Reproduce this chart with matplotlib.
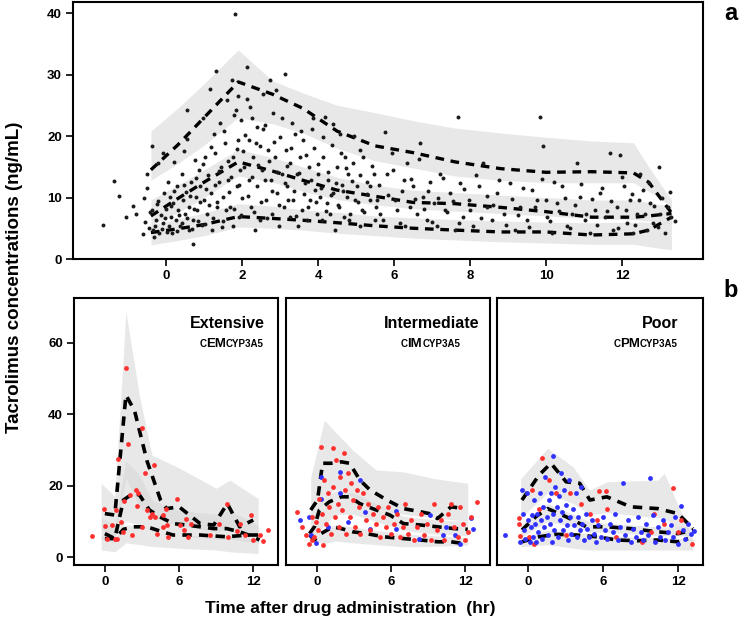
import numpy as np
import matplotlib
matplotlib.use('Agg')
import matplotlib.pyplot as plt

plt.rcParams['font.family'] = ['Liberation Sans', 'DejaVu Sans']
plt.rcParams['font.weight'] = 'bold'

# ---- panel a: all patients ----
t_a = [-0.4, 0.3, 1.0, 1.9, 2.8, 3.6, 4.5, 5.5, 6.5, 7.6, 8.8, 10.0, 11.2, 12.3, 12.7, 13.3]
p95_a = [14.5, 18.5, 23.0, 28.8, 26.8, 24.5, 20.8, 18.4, 17.3, 15.8, 14.7, 14.1, 14.2, 14.0, 12.5, 7.5]
p50_a = [7.0, 9.8, 12.5, 15.8, 14.3, 12.8, 11.2, 10.2, 9.2, 9.0, 8.4, 7.7, 6.8, 6.8, 7.0, 7.4]
p05_a = [4.3, 4.9, 5.6, 6.9, 6.6, 6.3, 5.9, 5.4, 5.0, 4.7, 4.4, 4.4, 3.9, 4.1, 4.7, 6.8]
ci95_hi_a = [20.8, 24.5, 28.5, 34.0, 29.0, 27.0, 25.0, 23.8, 22.5, 21.3, 20.5, 19.8, 19.2, 18.9, 15.0, 9.6]
ci95_lo_a = [12.8, 15.5, 18.5, 23.0, 22.0, 20.5, 18.0, 16.0, 14.8, 13.5, 12.8, 12.4, 12.4, 12.4, 11.0, 8.5]
ci50_hi_a = [9.6, 12.0, 14.5, 17.8, 16.5, 15.0, 13.3, 12.0, 11.2, 10.8, 10.4, 10.0, 9.6, 9.6, 9.2, 8.5]
ci50_lo_a = [5.5, 7.5, 10.0, 13.5, 12.5, 11.0, 9.7, 8.8, 8.2, 7.8, 7.4, 7.0, 6.6, 6.4, 6.2, 5.8]
ci05_hi_a = [5.6, 6.5, 7.5, 9.0, 8.6, 8.0, 7.6, 7.0, 6.7, 6.4, 6.2, 6.0, 5.9, 6.0, 6.0, 6.0]
ci05_lo_a = [2.3, 3.0, 3.8, 5.2, 5.0, 4.7, 4.2, 3.8, 3.4, 3.1, 2.8, 2.6, 2.4, 2.4, 2.0, 1.5]

obs_t_a = [-1.65, -1.36, -1.24, -1.05, -0.86, -0.79, -0.60, -0.57, -0.51, -0.50, -0.45, -0.38, -0.38, -0.35,
           -0.32, -0.27, -0.25, -0.20, -0.18, -0.14, -0.09, -0.07, -0.05, 0.0, 0.02, 0.06, 0.1, 0.12, 0.15,
           0.19, 0.21, 0.26, 0.28, 0.32, 0.37, 0.41, 0.44, 0.48, 0.5, 0.53, 0.54, 0.54, 0.59, 0.61, 0.65,
           0.70, 0.72, 0.76, 0.79, 0.82, 0.86, 0.89, 0.94, 0.98, 1.0, 1.03, 1.07, 1.11, 1.16, 1.18, 1.21,
           1.25, 1.28, 1.32, 1.33, 1.38, 1.42, 1.44, 1.49, 1.51, 1.55, 1.60, 1.64, 1.68, 1.73, 1.75, 1.77,
           1.82, 1.84, 1.86, 1.88, 1.90, 1.93, 1.95, 1.96, 1.99, 2.02, 2.12, 2.14, 2.17, 2.19, 2.23, 2.25,
           2.30, 2.34, 2.39, 2.40, 2.46, 2.47, 2.52, 2.56, 2.61, 2.63, 2.69, 2.74, 2.75, 2.78, 2.82, 2.87,
           2.89, 2.93, 2.96, 3.0, 3.04, 3.09, 3.13, 3.16, 3.19, 3.25, 3.26, 3.31, 3.35, 3.39, 3.44, 3.48,
           3.53, 3.57, 3.61, 3.66, 3.70, 3.75, 3.79, 3.83, 3.88, 3.92, 3.96, 4.01, 4.05, 4.10, 4.14, 4.18,
           4.23, 4.27, 4.32, 4.36, 4.40, 4.45, 4.49, 4.54, 4.58, 4.62, 4.67, 4.71, 4.76, 4.80, 4.84, 4.93,
           4.97, 5.02, 5.11, 5.15, 5.19, 5.28, 5.37, 5.46, 5.50,
           5.11, 5.37, 5.54, 5.63, 5.76, 5.81, 5.94, 6.02, 6.16, 6.25, 6.33, 6.42, 6.51, 6.60, 6.68, 6.77,
           6.86, 6.95, 7.04, 7.12, 7.21, 7.34, 7.47, 7.61, 7.69, 7.74, 7.82, 7.96, 8.09, 8.23, 8.35, 8.44,
           8.57, 8.70, 8.88, 9.05, 9.18, 9.32, 9.49, 9.62, 9.75, 9.84, 9.93, 10.02, 10.15, 10.28, 10.41,
           10.54, 10.68, 10.81, 10.89, 11.02, 11.16, 11.29, 11.42, 11.55, 11.68, 11.77, 11.86, 11.95, 12.04,
           12.12, 12.21, 12.30, 12.39, 12.47, 12.56, 12.65, 12.74, 12.82, 12.96, 13.0, 13.13, 13.26, 13.30,
           -0.55, -0.42, -0.3, -0.22, -0.12, -0.02, 0.08, 0.14, 0.22, 0.3, 0.35, 0.42, 0.47, 0.56, 0.63,
           0.68, 0.74, 0.8, 0.84, 0.9, 0.96, 1.02, 1.06, 1.13, 1.19, 1.23, 1.3, 1.35, 1.4, 1.46, 1.52,
           1.57, 1.62, 1.66, 1.71, 1.78, 1.8, 1.87, 1.92, 1.98, 2.05, 2.08, 2.15, 2.2, 2.27, 2.32, 2.36,
           2.42, 2.5, 2.55, 2.6, 2.66, 2.72, 2.8, 2.85, 2.92, 2.98, 3.05, 3.12, 3.18, 3.22, 3.3, 3.36,
           3.42, 3.5, 3.55, 3.63, 3.68, 3.74, 3.81, 3.86, 3.94, 4.0, 4.07, 4.12, 4.2, 4.25, 4.33, 4.4,
           4.47, 4.52, 4.6, 4.66, 4.74, 4.82, 4.9, 4.95, 5.04, 5.1, 5.2, 5.3, 5.42, 5.52,
           5.6, 5.7, 5.85, 5.98, 6.08, 6.2, 6.3, 6.45, 6.55, 6.65, 6.8, 6.9, 7.0, 7.15, 7.3, 7.4, 7.55,
           7.7, 7.85, 8.0, 8.15, 8.3, 8.45, 8.6, 8.75, 8.95, 9.1, 9.25, 9.4, 9.55, 9.7, 9.88, 10.0, 10.1,
           10.22, 10.35, 10.5, 10.62, 10.75, 10.92, 11.05, 11.2, 11.35, 11.48, 11.6, 11.72, 11.9, 12.0,
           12.1, 12.25, 12.35, 12.45, 12.6, 12.7, 12.85, 12.95, 13.05, 13.2, 13.4]
obs_c_a = [5.6, 12.7, 10.3, 6.8, 8.7, 7.4, 4.1, 9.9, 13.9, 11.5, 5.1, 18.4, 7.9, 4.7,
           3.5, 6.3, 8.9, 15.6, 4.2, 7.2, 5.8, 17.2, 10.7, 8.2, 4.4, 12.6, 10.1, 6.9, 4.2,
           9.1, 15.7, 6.3, 11.8, 8.0, 5.3, 13.9, 9.6, 17.6, 7.4, 10.9, 19.5, 24.2, 4.7, 8.5, 12.6,
           2.5, 6.3, 16.1, 10.1, 7.9, 14.5, 11.8, 5.5, 22.9, 9.6, 16.6, 7.4, 13.6, 27.6, 10.7, 4.7,
           20.4, 17.2, 30.5, 8.5, 12.6, 22.1, 15.0, 6.1, 10.1, 18.8, 25.9, 12.8, 8.5, 29.1, 16.6, 5.3,
           39.9, 24.2, 11.8, 26.5, 19.3, 6.9, 14.5, 22.6, 9.9, 17.5, 31.3, 26.1, 12.8, 19.3, 8.5, 22.9,
           16.6, 4.7, 21.5, 11.8, 6.3, 18.3, 14.5, 26.9, 21.8, 9.6, 17.7, 29.1, 12.8, 7.4, 23.7, 16.6,
           27.5, 10.7, 5.3, 19.9, 13.9, 8.5, 30.1, 17.7, 11.8, 6.9, 15.6, 22.1, 9.6, 20.4, 13.9, 5.3,
           16.6, 8.0, 19.3, 12.3, 6.3, 15.0, 9.6, 21.2, 18.0, 11.2, 7.4, 13.9, 10.1, 6.3, 16.6, 23.1,
           9.1, 12.8, 7.4, 18.5, 10.7, 4.7, 15.0, 8.5, 20.4, 12.0, 6.9, 16.6, 10.1, 13.9, 7.4, 15.6,
           9.6, 11.8, 5.3, 8.0, 16.6, 12.6, 9.6, 13.9, 6.3,
           17.7, 11.8, 9.6, 7.4, 20.7, 13.9, 17.2, 9.6, 5.8, 12.8, 15.6, 8.5, 11.8, 7.4, 18.8, 10.1,
           6.3, 12.6, 9.1, 5.3, 13.9, 8.0, 10.7, 4.7, 23.1, 12.3, 6.9, 9.6, 5.3, 11.8, 15.6, 8.5,
           6.3, 10.7, 7.4, 12.3, 4.7, 8.5, 6.3, 11.2, 9.6, 23.1, 18.3, 6.9, 4.2, 9.1, 11.8,
           5.3, 7.4, 15.6, 10.1, 6.3, 4.2, 8.0, 10.7, 6.9, 17.2, 4.7, 8.5, 16.9, 11.8,
           5.8, 9.6, 4.2, 7.4, 13.9, 11.2, 4.7, 9.1, 5.8, 15.0, 7.4, 4.2, 10.9, 6.9,
           6.0, 7.6, 5.4, 9.5, 4.9, 6.7, 5.3, 8.6, 11.0, 4.6, 7.1, 5.9, 12.1, 6.6, 10.3,
           4.9, 8.1, 13.2, 6.1, 9.3, 15.4, 5.7, 11.4, 8.8, 18.2, 6.6, 12.0, 9.2, 14.3, 5.2, 20.8,
           7.9, 16.0, 10.9, 13.4, 23.4, 8.1, 17.9, 12.1, 7.2, 15.0, 20.1, 10.2, 24.8, 13.3, 7.6, 18.8,
           15.3, 9.3, 21.2, 12.9, 6.7, 16.0, 11.0, 19.0, 14.1, 8.8, 22.9, 12.3, 15.1, 9.6, 18.0, 11.0,
           7.0, 14.0, 20.9, 10.6, 16.9, 8.4, 12.9, 23.0, 9.2, 15.5, 11.6, 19.9, 7.8, 14.1, 10.4, 22.0,
           12.4, 8.8, 17.3, 11.0, 14.8, 6.3, 12.7, 20.0, 9.2, 13.6, 7.6, 10.6, 15.2, 8.4,
           12.0, 6.4, 10.4, 14.4, 7.9, 11.1, 5.4, 13.0, 9.8, 16.2, 8.2, 11.0, 6.0, 10.0, 13.2, 7.6, 9.4,
           5.8, 11.4, 8.0, 13.6, 6.6, 10.2, 8.8, 12.8, 5.6, 9.8, 7.2, 11.6, 5.2, 8.4, 13.0, 9.6, 6.2,
           12.6, 7.8, 10.0, 5.0, 8.8, 12.2, 7.4, 9.8, 5.6, 11.6, 7.8, 9.4, 5.0, 13.4,
           8.0, 10.6, 5.6, 9.6, 7.4, 12.4, 8.6, 5.2, 10.0, 8.4, 6.1]

# ---- panel b: CYP3A5 phenotypes ----
t_em = [-0.3, 0.8, 1.7, 2.8, 3.8, 6.0, 9.0, 10.1, 12.4]
ci95_hi_em = [20.7, 17.0, 68.8, 45.0, 28.6, 25.0, 19.3, 21.6, 16.4]
ci95_lo_em = [8.0, 5.0, 22.0, 14.0, 11.0, 9.0, 7.0, 8.0, 6.0]
ci50_hi_em = [11.0, 9.0, 27.0, 23.0, 16.0, 13.0, 12.0, 13.0, 9.0]
ci50_lo_em = [5.0, 4.0, 10.0, 9.0, 7.0, 6.0, 5.0, 5.0, 4.0]
ci05_hi_em = [6.0, 5.0, 9.0, 9.0, 7.0, 6.0, 6.0, 6.0, 5.0]
ci05_lo_em = [2.0, 1.5, 4.0, 3.5, 3.0, 2.5, 2.0, 1.5, 1.0]
l95_t_em = [0, 0.8, 1.7, 2.4, 3.4, 4.5, 5.0, 6.0, 7.7, 8.8, 9.9, 10.9, 12.0]
l95_em = [12.2, 11.8, 45.4, 41.0, 27.0, 16.0, 13.6, 14.1, 9.4, 9.0, 15.0, 8.5, 10.4]
l50_t_em = [0, 0.8, 1.5, 2.3, 2.8, 3.6, 4.45, 5.5, 6.6, 7.7, 8.8, 9.85, 10.9, 12.0, 12.5]
l50_em = [6.6, 5.2, 16.0, 17.9, 17.4, 13.2, 11.3, 9.4, 9.0, 8.5, 8.0, 8.0, 7.1, 5.7, 4.8]
l05_t_em = [0, 0.8, 1.5, 2.3, 3.4, 4.2, 5.5, 7.7, 9.85, 11.5, 12.5]
l05_em = [5.2, 5.2, 7.8, 8.5, 8.5, 7.6, 6.2, 6.2, 5.7, 6.2, 6.2]
red_t_em = [-1.08, -0.05, 0, 0.13, 0.54, 0.8, 0.9, 1.0, 1.08, 1.27, 1.48, 1.57, 1.7, 1.9, 2.0, 2.16, 2.5,
            2.56, 2.7, 2.97, 2.97, 3.24, 3.37, 3.64, 3.78, 3.97, 4.05, 4.18, 4.67, 4.72, 4.91, 5.0, 5.07,
            5.8, 6.07, 6.42, 6.56, 6.75, 7.0, 8.5, 9.2, 9.85, 9.99, 10.66, 10.9, 11.3, 11.8, 12.0, 12.55,
            12.8, 13.2]
red_c_em = [5.9, 13.4, 8.8, 5.0, 9.0, 5.0, 13.2, 5.2, 27.5, 9.9, 7.1, 15.8, 53.1, 31.6, 17.4, 6.2, 18.8,
            14.4, 17.9, 36.3, 8.5, 23.5, 13.2, 11.3, 12.2, 25.8, 11.3, 6.6, 11.8, 8.5, 13.6, 9.0, 5.7,
            16.2, 9.0, 7.6, 10.8, 5.7, 9.4, 6.2, 9.2, 15.0, 5.7, 7.4, 9.4, 6.2, 11.8, 4.8, 6.2,
            4.6, 7.6]

t_im = [-0.5, 0.6, 1.5, 2.9, 4.8, 7.0, 9.5, 12.2]
ci95_hi_im = [22.5, 38.4, 35.0, 30.0, 24.4, 23.9, 22.0, 20.7]
ci95_lo_im = [9.0, 17.0, 19.0, 17.0, 14.0, 12.0, 11.0, 10.0]
ci50_hi_im = [10.0, 17.0, 18.5, 18.0, 15.0, 11.5, 10.5, 10.0]
ci50_lo_im = [5.0, 9.0, 12.0, 12.0, 10.0, 7.5, 6.5, 6.0]
ci05_hi_im = [6.0, 8.0, 9.0, 8.5, 7.5, 6.5, 6.0, 5.5]
ci05_lo_im = [4.8, 3.8, 4.5, 4.0, 3.5, 2.9, 3.0, 3.4]
l95_t_im = [-0.5, 0.05, 0.46, 1.15, 1.97, 2.65, 3.47, 4.3, 5.66, 7.0, 8.4, 9.1, 9.75, 10.85, 11.9]
l95_im = [13.2, 16.0, 26.3, 26.3, 26.7, 26.3, 21.6, 18.8, 16.0, 13.6, 12.7, 12.2, 10.8, 14.1, 13.6]
l50_t_im = [-0.6, -0.2, 0.2, 1.0, 1.97, 2.65, 3.47, 4.8, 5.9, 7.0, 8.4, 9.75, 11.1, 12.2]
l50_im = [6.6, 8.5, 13.2, 15.5, 16.9, 16.9, 15.0, 13.2, 11.8, 9.4, 9.0, 8.5, 8.0, 7.8]
l05_t_im = [-0.6, -0.2, 0.33, 1.3, 1.97, 2.9, 4.0, 5.4, 7.0, 8.4, 9.75, 10.85, 11.9]
l05_im = [6.2, 4.8, 6.6, 8.5, 8.0, 7.1, 6.6, 5.7, 5.2, 4.8, 4.3, 4.3, 3.8]
red_t_im = [-1.58, -1.17, -0.9, -0.63, -0.41, -0.36, -0.22, -0.08, 0.05, 0.19, 0.33, 0.41, 0.52, 0.6,
            0.74, 0.87, 1.01, 1.15, 1.28, 1.34, 1.5, 1.56, 1.69, 1.78, 1.89, 2.05, 2.16, 2.24, 2.38, 2.51,
            2.65, 2.79, 2.92, 3.06, 3.25, 3.42, 3.52, 3.74, 3.96, 4.15, 4.29, 4.56, 4.78, 4.97, 5.1, 5.38,
            5.6, 5.79, 5.98, 6.26, 6.48, 6.75, 6.97, 7.16, 7.35, 7.57, 7.84, 8.11, 8.39, 8.66, 8.93, 9.21,
            9.48, 9.75, 10.03, 10.3, 10.57, 10.85, 11.12, 11.4, 11.56, 11.8, 12.0, 12.2, 12.43, 12.98]
red_c_im = [12.7, 8.5, 6.2, 3.8, 4.8, 11.3, 5.7, 9.9, 7.6, 16.4, 30.9, 12.2, 3.4, 21.6,
            9.4, 17.9, 14.1, 6.6, 30.5, 19.7, 11.3, 27.2, 15.0, 8.5, 22.5, 13.2, 29.1, 18.8, 6.6, 23.5,
            11.3, 20.7, 16.0, 8.5, 18.8, 14.1, 6.6, 17.9, 10.4, 15.0, 7.6, 12.2, 9.4, 14.1, 5.7, 11.3,
            8.5, 14.1, 6.6, 9.4, 12.2, 5.7, 8.5, 15.0, 6.6, 10.4, 4.8, 8.5, 12.2, 6.2, 9.4, 4.8,
            15.0, 7.6, 10.4, 4.8, 12.2, 15.0, 8.5, 5.7, 14.1, 9.4, 4.8, 7.1, 11.3, 15.5]
blue_t_im = [-1.39, -0.63, -0.49, -0.08, 0.33, 0.33, 0.87, 1.83, 1.83, 2.51, 3.47, 3.88, 4.29, 6.42,
             6.42, 8.25, 9.15, 10.16, 10.44, 11.2, 11.6, 12.49, 12.62]
blue_c_im = [10.4, 11.3, 6.2, 4.0, 22.5, 16.2, 8.5, 23.9, 17.9, 9.9, 21.6, 12.7, 8.0, 13.0,
             8.0, 5.0, 11.8, 6.2, 8.5, 6.1, 3.6, 11.1, 8.0]

t_pm = [-0.6, 1.55, 3.6, 4.9, 6.3, 10.4, 10.9, 13.2]
ci95_hi_pm = [22.0, 30.5, 25.3, 18.8, 21.1, 21.6, 23.5, 4.8]
ci95_lo_pm = [11.0, 18.0, 15.0, 12.0, 12.5, 11.0, 11.0, 4.0]
ci50_hi_pm = [9.0, 15.0, 12.0, 10.0, 9.5, 8.5, 8.5, 8.5]
ci50_lo_pm = [5.5, 10.0, 8.5, 7.0, 7.0, 6.0, 6.0, 6.0]
ci05_hi_pm = [5.5, 7.5, 7.0, 6.5, 6.0, 5.5, 5.5, 5.0]
ci05_lo_pm = [2.9, 3.5, 2.5, 2.0, 2.0, 2.0, 2.0, 2.0]
l95_t_pm = [-0.5, 0.87, 1.82, 3.04, 4.12, 4.94, 6.3, 8.2, 10.37, 12.0, 13.2]
l95_pm = [16.0, 23.0, 26.3, 21.1, 20.7, 16.0, 16.9, 14.1, 13.6, 12.2, 8.0]
l50_t_pm = [-0.5, 0.6, 1.55, 3.04, 4.67, 6.3, 8.2, 10.37, 12.0, 13.2]
l50_pm = [7.6, 11.3, 13.6, 11.3, 8.5, 8.5, 8.0, 7.1, 6.6, 7.6]
l05_t_pm = [-0.5, 0.87, 2.2, 3.85, 5.5, 7.1, 8.74, 10.37, 12.0, 12.8]
l05_pm = [4.3, 5.7, 6.4, 6.2, 5.7, 4.8, 4.6, 4.8, 4.3, 5.2]
red_t_pm = [-0.7, -0.76, -0.62, 0.33, 1.14, 1.68, 2.2, 3.31, 0.87, 4.26, 3.04, 4.94, 5.48, 5.67, 6.24,
            6.3, 7.06, 9.15, 9.82, 10.1, 10.9, 11.59, 12.0, 12.27, 13.08, 0.05, 0.46]
red_c_pm = [11.1, 9.4, 5.9, 18.8, 27.7, 21.6, 17.9, 17.9, 13.4, 15.0, 6.2, 12.2, 10.4, 18.6, 18.6,
            13.6, 5.7, 4.3, 7.1, 12.2, 9.4, 19.4, 7.1, 10.4, 3.8, 5.7, 3.8]
blue_t_pm = [-1.85, -0.62, -0.49, -0.43, -0.35, -0.22, -0.08, 0, 0.11, 0.19, 0.27, 0.38, 0.46, 0.54, 0.65,
             0.73, 0.81, 0.92, 1.0, 1.09, 1.19, 1.28, 1.36, 1.47, 1.55, 1.63, 1.74, 1.82, 1.9, 1.95, 2.01,
             2.09, 2.17, 2.28, 2.36, 2.44, 2.55, 2.63, 2.71, 2.82, 2.9, 2.99, 3.09, 3.18, 3.26, 3.37, 3.45,
             3.58, 3.66, 3.8, 3.91, 3.99, 4.12, 4.23, 4.34, 4.45, 4.59, 4.72, 4.88, 5.07, 5.26, 5.43, 5.62,
             5.81, 5.97, 6.16, 6.35, 6.57, 6.78, 6.97, 7.16, 7.38, 7.6, 7.79, 7.98, 8.2, 8.41, 8.6, 8.79,
             9.0, 9.23, 9.42, 9.61, 9.77, 9.96, 10.15, 10.37, 10.58, 10.77, 10.96, 11.18, 11.4, 11.59,
             11.78, 12.0, 12.21, 12.4, 12.59, 12.81, 13.03, 13.3]
blue_c_pm = [6.1, 4.3, 18.8, 12.2, 7.6, 5.2, 17.9, 10.4, 4.3, 8.5, 11.8, 5.7, 16.0, 9.4, 4.3,
             12.2, 7.1, 17.9, 10.4, 5.2, 14.1, 8.5, 22.5, 11.3, 6.2, 16.0, 9.4, 17.9, 4.3, 28.3, 12.2,
             7.6, 19.7, 14.1, 5.7, 17.0, 10.4, 23.5, 12.7, 7.6, 18.8, 14.6, 9.0, 4.8, 21.6, 11.3, 6.6,
             13.6, 9.0, 17.9, 5.7, 11.3, 7.6, 19.7, 9.4, 4.8, 12.2, 8.0, 5.7, 10.4, 6.6, 4.3, 9.0,
             5.7, 11.3, 7.6, 5.2, 9.4, 7.1, 12.2, 4.8, 8.5, 20.7, 6.2, 10.4, 4.3, 8.0, 5.7, 11.3,
             7.1, 4.8, 9.4, 6.2, 22.3, 11.8, 4.3, 8.5, 5.7, 10.4, 4.8, 7.1, 9.0, 5.7,
             11.3, 3.8, 14.3, 7.6, 5.2, 9.4, 6.6, 7.4]

BAND = '#d6d6d6'
RED = '#ff3030'
BLUE = '#3030ff'


def draw_bands(ax, t, bands):
    for lo, hi in bands:
        ax.fill_between(t, lo, hi, color=BAND, alpha=0.55, lw=0)


def draw_line(ax, t, y, lw=2.4):
    ax.plot(t, y, color='black', lw=lw, dashes=(2.6, 2.0), solid_capstyle='butt',
            dash_capstyle='butt')


def style_ax(ax):
    for sp in ax.spines.values():
        sp.set_linewidth(1.5)
    ax.tick_params(direction='out', length=5, width=1.2, labelsize=9.5, pad=3)
    for lab in ax.get_xticklabels() + ax.get_yticklabels():
        lab.set_fontweight('bold')


fig = plt.figure(figsize=(7.42, 6.29), dpi=100)
W, H = 742.0, 629.0

ax_a = fig.add_axes([73 / W, 1 - 259 / H, 630 / W, 257 / H])
draw_bands(ax_a, t_a, [(ci95_lo_a, ci95_hi_a), (ci50_lo_a, ci50_hi_a), (ci05_lo_a, ci05_hi_a)])
ax_a.scatter(obs_t_a, obs_c_a, s=8, color='#1a1a1a', lw=0, zorder=3)
for y in (p95_a, p50_a, p05_a):
    draw_line(ax_a, t_a, y)
ax_a.set_xlim(-2.45, 14.13)
ax_a.set_ylim(0, 41.8)
ax_a.set_xticks(np.arange(0, 13, 2))
ax_a.set_yticks([0, 10, 20, 30, 40])
style_ax(ax_a)

panels = [
    (74, 204, t_em, [(ci95_lo_em, ci95_hi_em), (ci50_lo_em, ci50_hi_em), (ci05_lo_em, ci05_hi_em)],
     [(l95_t_em, l95_em), (l50_t_em, l50_em), (l05_t_em, l05_em)],
     (red_t_em, red_c_em), ([], [])),
    (286, 204, t_im, [(ci95_lo_im, ci95_hi_im), (ci50_lo_im, ci50_hi_im), (ci05_lo_im, ci05_hi_im)],
     [(l95_t_im, l95_im), (l50_t_im, l50_im), (l05_t_im, l05_im)],
     (red_t_im, red_c_im), (blue_t_im, blue_c_im)),
    (497, 206, t_pm, [(ci95_lo_pm, ci95_hi_pm), (ci50_lo_pm, ci50_hi_pm), (ci05_lo_pm, ci05_hi_pm)],
     [(l95_t_pm, l95_pm), (l50_t_pm, l50_pm), (l05_t_pm, l05_pm)],
     (red_t_pm, red_c_pm), (blue_t_pm, blue_c_pm)),
]

for i, (x0, w, tb, bands, lines, red, blue) in enumerate(panels):
    ax = fig.add_axes([x0 / W, 1 - 565 / H, w / W, 267 / H])
    draw_bands(ax, tb, bands)
    if i == 2:
        ax.scatter(red[0], red[1], s=12, color=RED, lw=0, zorder=3)
        ax.scatter(blue[0], blue[1], s=12, color=BLUE, lw=0, zorder=3)
    else:
        ax.scatter(blue[0], blue[1], s=12, color=BLUE, lw=0, zorder=3)
        ax.scatter(red[0], red[1], s=12, color=RED, lw=0, zorder=3)
    for lt, ly in lines:
        draw_line(ax, lt, ly, lw=2.6)
    ax.set_xlim(-2.5, 14.0)
    ax.set_ylim(-2.2, 72.6)
    ax.set_xticks([0, 6, 12])
    ax.set_yticks([0, 20, 40, 60])
    style_ax(ax)
    if i > 0:
        ax.tick_params(axis='y', left=False, labelleft=False)

renderer = fig.canvas.get_renderer()


def ftext(x, y, s, size, ha='left', va='baseline', **kw):
    return fig.text(x / W, 1 - y / H, s, fontsize=size, fontweight='bold', ha=ha, va=va, **kw)


def pheno_label(x_right, y, big):
    # small "C" + big letters + small "CYP3A5", all on one baseline, right-aligned
    parts = [('C', 7), (big, 9.5), ('CYP3A5', 7)]
    widths = []
    for s, size in parts:
        t = ftext(0, y, s, size)
        widths.append(t.get_window_extent(renderer).width)
        t.remove()
    x = x_right - sum(widths)
    for (s, size), wd in zip(parts, widths):
        ftext(x, y, s, size)
        x += wd


ftext(265, 328, 'Extensive', 11.5, ha='right')
pheno_label(264, 347, 'EM')
ftext(479, 328, 'Intermediate', 11.5, ha='right')
pheno_label(460, 347, 'IM')
ftext(678, 328, 'Poor', 11.5, ha='right')
pheno_label(678, 347, 'PM')

ftext(731, 20, 'a', 17, ha='center')
ftext(731, 297, 'b', 17, ha='center')

fig.text(15 / W, 1 - 277 / H, 'Tacrolimus concentrations (ng/mL)', rotation=90,
         fontsize=13.5, fontweight='bold', ha='center', va='center')
fig.text(350 / W, 1 - 609 / H, 'Time after drug administration  (hr)',
         fontsize=12.5, fontweight='bold', ha='center', va='center')

fig.savefig('out.png', dpi=100)
